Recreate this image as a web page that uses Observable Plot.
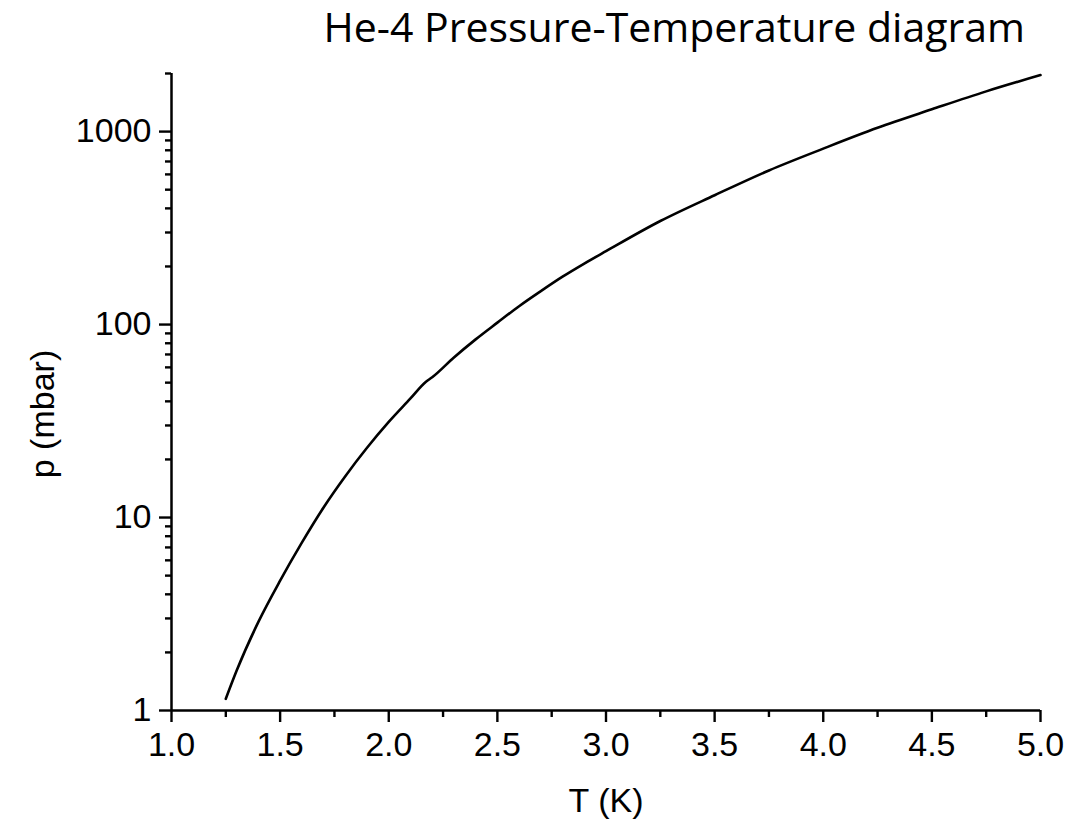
<!DOCTYPE html>
<html>
<head>
<meta charset="utf-8">
<script src="https://cdn.jsdelivr.net/npm/d3@7"></script>
<script src="https://cdn.jsdelivr.net/npm/@observablehq/plot@0.6"></script>
<style>
  body { margin: 0; background: #fff; }
  #title { height: 60px; position: relative; font-family: "Open Sans", sans-serif; font-size: 41px; color: #000; overflow: visible; }
  #title span { position: absolute; right: 59px; top: -2px; white-space: nowrap; line-height: normal; }
  svg text { font-family: "Liberation Sans", Arial, sans-serif; }
</style>
</head>
<body>
<div id="title"><span>He-4 Pressure-Temperature diagram</span></div>
<div id="chart"></div>
<script>
// He-4 saturated vapour pressure
const temperatureK = [1.25, 1.3, 1.4, 1.5, 1.6, 1.7, 1.8, 1.9, 2.0, 2.1, 2.17, 2.2, 2.3, 2.4, 2.5, 2.6, 2.7, 2.8, 2.9, 3.0, 3.25, 3.5, 3.75, 4.0, 4.25, 4.5, 4.75, 5.0];
const pressureMbar = [1.15, 1.61, 2.88, 4.71, 7.41, 11.28, 16.38, 22.99, 31.3, 41.4, 50.4, 53.3, 67.5, 83.8, 102.3, 124.5, 149, 177, 207, 240, 344, 468, 629, 816, 1046, 1304, 1616, 1963];

const xMajorTicks = [1.0, 1.5, 2.0, 2.5, 3.0, 3.5, 4.0, 4.5, 5.0];
const xMinorTicks = [1.25, 1.75, 2.25, 2.75, 3.25, 3.75, 4.25, 4.75];
const yMajorTicks = [1, 10, 100, 1000];
const yMinorTicks = [2, 3, 4, 5, 6, 7, 8, 9, 20, 30, 40, 50, 60, 70, 80, 90, 200, 300, 400, 500, 600, 700, 800, 900, 2000];
const xLabel = "T (K)";
const yLabel = "p (mbar)";

const data = temperatureK.map((t, i) => ({T: t, p: pressureMbar[i]}));
const fs = 34;

const chart = Plot.plot({
  width: 1084,
  height: 763,
  marginLeft: 171,
  marginRight: 44,
  marginTop: 13,
  marginBottom: 113,
  style: {fontSize: fs + "px", fontFamily: "Liberation Sans, Arial, sans-serif", color: "#000", background: "#fff", overflow: "visible"},
  x: {domain: [1, 5]},
  y: {type: "log", domain: [1, 2000]},
  marks: [
    Plot.axisX(xMinorTicks, {tickSize: 7, strokeWidth: 2.4, tickFormat: () => "", label: null}),
    Plot.axisX(xMajorTicks, {tickSize: 12, strokeWidth: 2.4, tickPadding: 9, fontSize: fs, tickFormat: d3.format(".1f"), label: null}),
    Plot.axisY(yMinorTicks, {tickSize: 6, strokeWidth: 2.4, tickFormat: () => "", label: null}),
    Plot.axisY(yMajorTicks, {tickSize: 12, strokeWidth: 2.4, tickPadding: 8, fontSize: fs, tickFormat: d3.format("d"), label: null}),
    Plot.text([xLabel], {frameAnchor: "bottom", dy: 91, fontSize: fs, lineAnchor: "middle", textAnchor: "middle", fill: "#000"}),
    Plot.text([yLabel], {frameAnchor: "left", dx: -128, dy: 22, rotate: -90, fontSize: fs, lineAnchor: "middle", textAnchor: "middle", fill: "#000"}),
    Plot.ruleX([1], {strokeWidth: 2.5}),
    Plot.ruleY([1], {strokeWidth: 2.5}),
    Plot.line(data, {x: "T", y: "p", stroke: "#000", strokeWidth: 2.6, curve: "monotone-x"})
  ]
});
document.getElementById("chart").appendChild(chart);
</script>
</body>
</html>
